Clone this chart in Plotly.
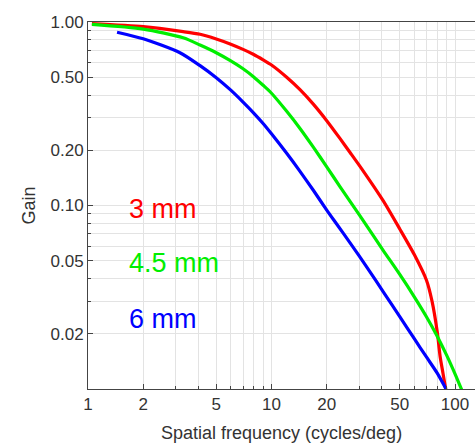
import plotly.graph_objects as go

# 3 mm pupil
f_3mm = [1.05, 2, 3.3, 4.08, 5, 6, 7, 8, 9, 10, 12.1, 14.3, 16.9, 20, 23.6, 26.8, 31.5,
         40.5, 50, 60, 70, 75, 80, 83, 86, 89]
g_3mm = [0.98, 0.943, 0.886, 0.857, 0.808, 0.757, 0.709, 0.665, 0.622, 0.583, 0.500, 0.428,
         0.357, 0.290, 0.232, 0.1945, 0.155, 0.1066, 0.0745, 0.054, 0.039, 0.030, 0.0205,
         0.0150, 0.0122, 0.0100]

# 4.5 mm pupil
f_45mm = [1.05, 2, 3.3, 4.08, 5, 6, 7, 8, 9, 10, 12.1, 14.3, 16.9, 20, 23.6, 30.3, 40.5,
          50, 60, 70, 80, 90, 100, 108.8]
g_45mm = [0.97, 0.915, 0.82, 0.749, 0.68, 0.614, 0.556, 0.502, 0.452, 0.409, 0.326, 0.263,
          0.208, 0.1625, 0.1268, 0.0881, 0.0572, 0.0421, 0.0318, 0.0247, 0.0194, 0.0153,
          0.0121, 0.0099]

# 6 mm pupil
f_6mm = [1.44, 2, 3.17, 4.08, 5, 6, 7, 8, 9, 10, 12.1, 14.3, 16.9, 20, 22.6, 26.8, 33.2,
         41.6, 50, 60, 70, 80, 89.4]
g_6mm = [0.88, 0.81, 0.68, 0.578, 0.497, 0.425, 0.366, 0.319, 0.280, 0.246, 0.1925, 0.1535,
         0.1211, 0.0944, 0.0795, 0.0626, 0.0459, 0.0327, 0.0248, 0.0188, 0.0149, 0.0122, 0.0100]

x_ticks = [1, 2, 5, 10, 20, 50, 100]
x_ticklabels = ["1", "2", "5", "10", "20", "50", "100"]
x_minor = [3, 4, 6, 7, 8, 9, 30, 40, 60, 70, 80, 90]
y_ticks = [0.02, 0.05, 0.1, 0.2, 0.5, 1.0]
y_ticklabels = ["0.02", "0.05", "0.10", "0.20", "0.50", "1.00"]
y_minor = [0.03, 0.04, 0.06, 0.07, 0.08, 0.09, 0.3, 0.4, 0.6, 0.7, 0.8, 0.9]

labels = ["3 mm", "4.5 mm", "6 mm"]
colors = ["#ff0000", "#00ee00", "#0000ff"]
x_title = "Spatial frequency (cycles/deg)"
y_title = "Gain"

FONT = "Liberation Sans, Arial, Helvetica, sans-serif"

fig = go.Figure()
for fx, gy, c, name in [(f_3mm, g_3mm, colors[0], labels[0]),
                        (f_45mm, g_45mm, colors[1], labels[1]),
                        (f_6mm, g_6mm, colors[2], labels[2])]:
    fig.add_trace(go.Scatter(x=fx, y=gy, mode="lines", name=name,
                             line=dict(color=c, width=3.2, shape="spline", smoothing=0.7),
                             showlegend=False))

ann_y = [0.49, 0.343, 0.19]
for lab, c, yy in zip(labels, colors, ann_y):
    fig.add_annotation(text=lab, xref="paper", yref="paper", x=0.1, y=yy,
                       xanchor="left", yanchor="middle", showarrow=False,
                       font=dict(family=FONT, size=27, color=c))

fig.add_annotation(text=x_title, xref="paper", yref="paper", x=0.5, y=0,
                   xanchor="center", yanchor="top", yshift=-32, showarrow=False,
                   font=dict(family=FONT, size=18, color="#333"))
fig.add_annotation(text=y_title, xref="paper", yref="paper", x=0, y=0.5,
                   xanchor="center", yanchor="middle", xshift=-60, textangle=-90,
                   showarrow=False, font=dict(family=FONT, size=18, color="#333"))

axis_common = dict(
    type="log", automargin=False,
    showline=True, linecolor="#444", linewidth=1,
    gridcolor="#e3e3e3", gridwidth=1,
    ticks="inside", ticklen=5, tickcolor="#444",
    tickfont=dict(family=FONT, size=17, color="#333"),
    zeroline=False,
)

fig.update_xaxes(
    **axis_common,
    range=[0, 2.109],
    tickvals=x_ticks, ticktext=x_ticklabels,
    mirror=True,
    minor=dict(tickvals=x_minor, showgrid=True, gridcolor="#e3e3e3",
               ticks="inside", ticklen=3, tickcolor="#444"),
)
fig.update_yaxes(
    **axis_common,
    range=[-2, 0],
    tickvals=y_ticks, ticktext=y_ticklabels,
    minor=dict(tickvals=y_minor, showgrid=True, gridcolor="#e3e3e3",
               ticks="inside", ticklen=3, tickcolor="#444"),
)

fig.update_layout(
    width=475, height=443,
    margin=dict(l=88, r=0, t=22, b=54),
    plot_bgcolor="white", paper_bgcolor="white",
)

fig.write_html("out.html", config={"displayModeBar": False},
               post_script="document.body.style.margin='0';document.body.style.overflow='hidden';")
